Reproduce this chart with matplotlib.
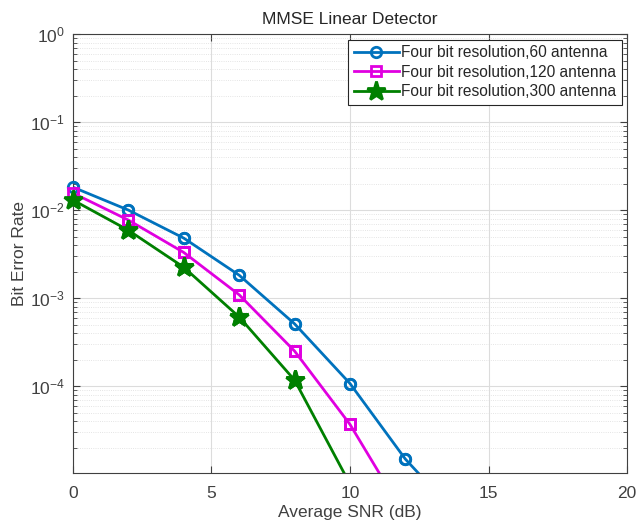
import numpy as np
import matplotlib
matplotlib.use("Agg")
import matplotlib.pyplot as plt
from matplotlib.ticker import LogLocator, NullFormatter

plt.rcParams['font.family'] = ['Liberation Sans', 'DejaVu Sans']
plt.rcParams['mathtext.default'] = 'regular'

# BER (points below 1e-5 are off-axis)
snr_60 = [0, 2, 4, 6, 8, 10, 12, 14]
ber_60 = [1.82e-2, 1.0e-2, 4.8e-3, 1.82e-3, 5.1e-4, 1.07e-4, 1.48e-5, 3.1e-6]
snr_120 = [0, 2, 4, 6, 8, 10, 12]
ber_120 = [1.56e-2, 7.7e-3, 3.3e-3, 1.09e-3, 2.5e-4, 3.67e-5, 3.3e-6]
snr_300 = [0, 2, 4, 6, 8, 10]
ber_300 = [1.3e-2, 5.9e-3, 2.24e-3, 6.1e-4, 1.17e-4, 7.7e-6]

labels = ['Four bit resolution,60 antenna',
          'Four bit resolution,120 antenna',
          'Four bit resolution,300 antenna']

fig = plt.figure(figsize=(6.38, 5.24), dpi=100)
ax = fig.add_axes([0.1144, 0.0973, 0.9828 - 0.1144, 0.935 - 0.0973])

styles = [('#0072BD', 'o', 7.5, 'none'),
          ('#E000E0', 's', 6.5, 'none'),
          ('#008000', '*', 14, '#008000')]
series = [(snr_60, ber_60), (snr_120, ber_120), (snr_300, ber_300)]

ymin, ymax = 1.03e-5, 1.0
for (x, y), (c, m, ms, mfc), lab in zip(series, styles, labels):
    ax.plot(x, y, color=c, lw=2, marker=m, ms=ms, mfc=mfc, mew=2, label=lab)
    # markers at the axes edge are not clipped (like MATLAB)
    xs = [a for a, b in zip(x, y) if b >= ymin]
    ys = [b for b in y if b >= ymin]
    ax.plot(xs, ys, ls='none', color=c, marker=m, ms=ms, mfc=mfc, mew=2,
            clip_on=False, zorder=3)

ax.set_yscale('log')
ax.set_xlim(0, 20)
ax.set_ylim(ymin, ymax)
ax.set_xticks([0, 5, 10, 15, 20])
ax.yaxis.set_major_locator(LogLocator(base=10, numticks=10))
ax.yaxis.set_minor_locator(LogLocator(base=10, subs=np.arange(2, 10), numticks=10))
ax.yaxis.set_minor_formatter(NullFormatter())

ax.grid(True, which='major', color='#dcdcdc', lw=0.8)
ax.grid(True, which='minor', axis='y', color='#dcdcdc', lw=0.6, ls=':')
ax.set_axisbelow(True)

ax.tick_params(which='both', direction='in', top=True, right=True,
               labelsize=12.5, colors='#404040', labelcolor='#404040')
ax.tick_params(axis='x', which='major', length=5, pad=9)
ax.tick_params(axis='y', which='major', length=5, pad=6)
ax.tick_params(which='minor', length=3)
for s in ax.spines.values():
    s.set_color('#404040')
    s.set_linewidth(0.8)

ax.set_title('MMSE Linear Detector', fontsize=12.5, color='#262626', pad=7)
ax.set_xlabel('Average SNR (dB)', fontsize=12.5, color='#404040', labelpad=3)
ax.set_ylabel('Bit Error Rate', fontsize=12.5, color='#404040', labelpad=2)

leg = ax.legend(loc='upper right', fontsize=11.2, frameon=True, fancybox=False,
                edgecolor='#262626', framealpha=1, borderpad=0.35,
                labelspacing=0.3, handlelength=2.9, handletextpad=0.15,
                borderaxespad=0.35)
leg.get_frame().set_linewidth(0.8)
for t in leg.get_texts():
    t.set_color('#262626')

fig.savefig('out.png', dpi=100)
